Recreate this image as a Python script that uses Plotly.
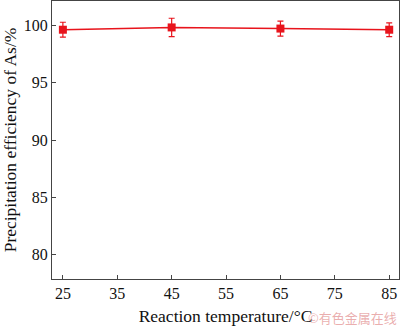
import plotly.graph_objects as go

temps = [25, 45, 65, 85]
efficiency = [99.6, 99.8, 99.7, 99.6]
err = [0.65, 0.8, 0.65, 0.6]
x_ticks = [25, 35, 45, 55, 65, 75, 85]
y_ticks = [80, 85, 90, 95, 100]

fig = go.Figure()
fig.add_trace(go.Scatter(
    x=temps, y=efficiency, mode="lines+markers",
    line=dict(color="#e8141c", width=1.5),
    marker=dict(symbol="square", size=8, color="#e8141c"),
    error_y=dict(type="data", array=err, color="#e8141c", thickness=1.2, width=3),
))

font = dict(family="Liberation Serif, Times New Roman, serif", color="#111", size=16)
axis_common = dict(showline=True, linecolor="#444", linewidth=1.2, mirror=True,
                   ticks="inside", ticklen=4, tickcolor="#444", showgrid=False,
                   zeroline=False, tickfont=font)
fig.update_xaxes(range=[23, 86.8], tickvals=x_ticks,
                 title=dict(text="Reaction temperature/°C", font=dict(family=font["family"], size=17.5, color="#111"), standoff=8),
                 **axis_common)
fig.update_yaxes(range=[77.9, 102.1], tickvals=y_ticks,
                 title=dict(text="Precipitation efficiency of As/%", font=dict(family=font["family"], size=17.5, color="#111"), standoff=5),
                 **axis_common)
fig.add_annotation(x=1, y=-0.14, xref="paper", yref="paper", xanchor="right", yanchor="middle",
                   text="©有色金属在线", showarrow=False,
                   font=dict(family="Noto Sans CJK SC", size=13, color="rgba(220,120,120,0.6)"))
fig.update_layout(width=400, height=328, margin=dict(l=52, r=1, t=1, b=49),
                  paper_bgcolor="white", plot_bgcolor="white", showlegend=False)
fig.write_html("out.html")
